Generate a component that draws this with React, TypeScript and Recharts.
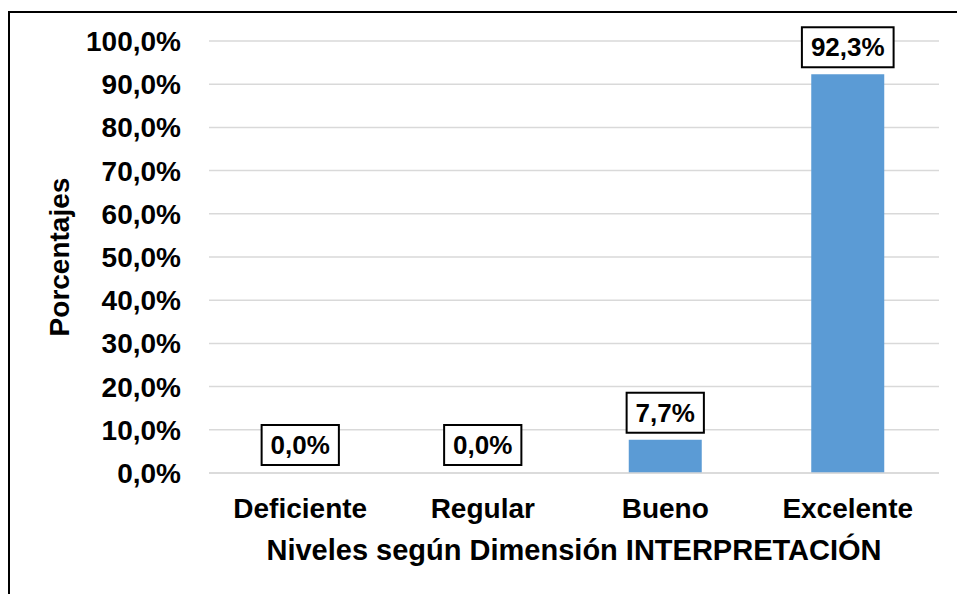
import { BarChart, Bar, XAxis, YAxis, CartesianGrid, LabelList, Label, Cell } from 'recharts'

const niveles = ['Deficiente', 'Regular', 'Bueno', 'Excelente']
const porcentajes = [0.0, 0.0, 7.7, 92.3]
const yTicks = [0, 10, 20, 30, 40, 50, 60, 70, 80, 90, 100]

const FONT = '"Liberation Sans", Arial, sans-serif'
const AXIS_FS = 28
const LABEL_FS = 26
const BAR_COLOR = '#5B9BD5'

const fmt = (v: number) => `${v.toFixed(1).replace('.', ',')}%`

// rough Arial bold advance widths, enough to size the label boxes
const charW: Record<string, number> = { ',': 0.278, '%': 0.889 }
const textWidth = (s: string) => s.split('').reduce((w, c) => w + (charW[c] ?? 0.556), 0) * LABEL_FS

const data = niveles.map((name, i) => ({ name, value: porcentajes[i] }))

function BoxLabel(props: any) {
  const { x, y, width, value } = props
  const txt = fmt(Number(value))
  const w = textWidth(txt) + 18
  const h = 40
  const cx = Number(x) + Number(width) / 2
  const bottom = Number(y) - 7
  return (
    <g>
      <rect x={cx - w / 2} y={bottom - h} width={w} height={h} fill="#fff" stroke="#000" strokeWidth={2} />
      <text x={cx} y={bottom - 11} textAnchor="middle" fontFamily={FONT} fontWeight="bold" fontSize={LABEL_FS} fill="#000">
        {txt}
      </text>
    </g>
  )
}

export default function App() {
  return (
    <div style={{ position: 'absolute', left: 0, top: 0, width: 957, height: 594, background: '#fff', overflow: 'hidden' }}>
      <div
        style={{
          position: 'absolute', left: 8, top: 11, width: 949, height: 583,
          borderTop: '2px solid #000', borderLeft: '2px solid #000', boxSizing: 'border-box',
        }}
      />
      <BarChart
        width={957}
        height={594}
        data={data}
        margin={{ top: 41, right: 18, bottom: 1, left: 0 }}
        barCategoryGap="30%"
        style={{ position: 'absolute', left: 0, top: 0 }}
      >
        <CartesianGrid vertical={false} stroke="#D9D9D9" strokeWidth={1.5} />
        <XAxis
          dataKey="name"
          height={120}
          tickLine={false}
          tickSize={0}
          tickMargin={25}
          axisLine={{ stroke: '#D9D9D9', strokeWidth: 1.5 }}
          tick={{ fill: '#000', fontSize: AXIS_FS, fontWeight: 'bold', fontFamily: FONT }}
        >
          <Label
            content={({ viewBox }: any) => (
              <text
                x={viewBox.x + viewBox.width / 2}
                y={viewBox.y + 87}
                textAnchor="middle"
                fontFamily={FONT}
                fontWeight="bold"
                fontSize={29}
                fill="#000"
              >
                Niveles según Dimensión INTERPRETACIÓN
              </text>
            )}
          />
        </XAxis>
        <YAxis
          width={209}
          domain={[0, 100]}
          ticks={yTicks}
          tickFormatter={fmt}
          axisLine={false}
          tickLine={false}
          tickSize={0}
          tickMargin={28}
          tick={{ fill: '#000', fontSize: AXIS_FS, fontWeight: 'bold', fontFamily: FONT }}
        >
          <Label
            content={({ viewBox }: any) => {
              const cy = viewBox.y + viewBox.height / 2
              return (
                <text
                  x={69}
                  y={cy}
                  transform={`rotate(-90, 69, ${cy})`}
                  textAnchor="middle"
                  fontFamily={FONT}
                  fontWeight="bold"
                  fontSize={AXIS_FS}
                  fill="#000"
                >
                  Porcentajes
                </text>
              )
            }}
          />
        </YAxis>
        <Bar dataKey="value" fill={BAR_COLOR} minPointSize={1} isAnimationActive={false}>
          {data.map((d, i) => (
            <Cell key={i} fill={d.value > 0 ? BAR_COLOR : 'transparent'} />
          ))}
          <LabelList dataKey="value" content={BoxLabel} />
        </Bar>
      </BarChart>
    </div>
  )
}
